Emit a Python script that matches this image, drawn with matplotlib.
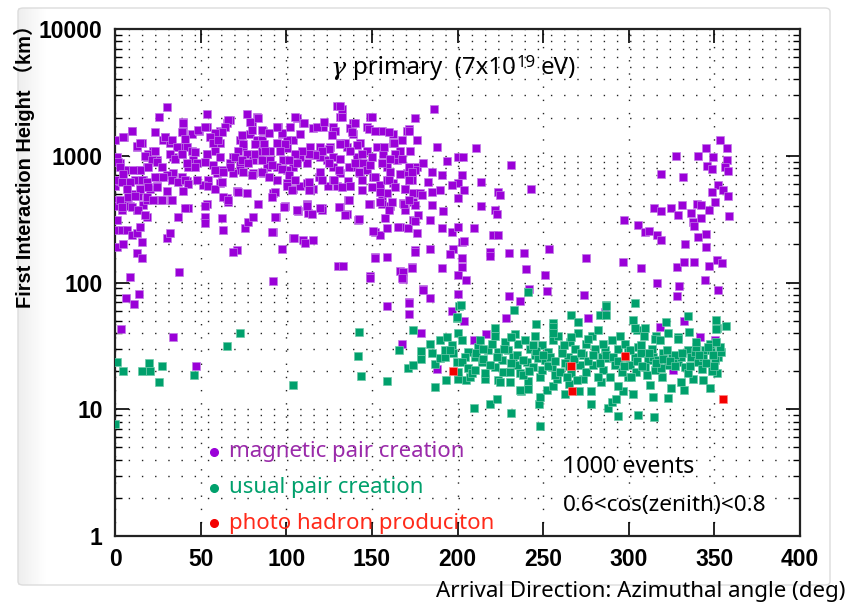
import matplotlib
matplotlib.use('Agg')
import matplotlib.pyplot as plt
from matplotlib.patches import FancyBboxPatch
from matplotlib.ticker import NullLocator, NullFormatter, FixedLocator, LogLocator
import numpy as np

# ---------------- data (azimuth deg, first interaction height km) ----------------
magnetic_pts = [
    (0,1330),(5.3,1410),(9.7,1580),(23.4,1530),(25.9,2030),(30.6,2410),(1,980),(2.9,870),(4.9,770),(0,575),
    (2.9,630),(6.8,575),(11.7,645),(14.6,770),(18.5,980),(12.6,1170),(15.6,1250),(22.4,1100),(28.2,1330),(32.1,1250),
    (29.2,1410),(38,1170),(34.1,980),(38.9,1040),(42.2,1170),(39.5,1580),(39.9,1850),(44.8,1480),(49,1580),(53.5,2150),
    (53.5,1700),(57.4,1410),(61.3,1580),(65.2,1800),(67.2,1920),(76.9,2150),(82.7,2030),(79.8,1850),(73,1330),(74.9,1170),
    (78.8,1480),(82.7,1330),(86.6,1170),(86.6,1580),(76.9,1040),(80.8,930),(69.1,980),(67.2,870),(63.2,770),(59.4,730),
    (54.5,645),(61.3,615),(51.6,590),(42.2,630),(38.9,680),(34.1,730),(30.2,705),(26.3,680),(24.3,575),(20.4,550),
    (16.5,645),(18.5,815),(24.3,930),(45.7,930),(42.8,815),(47.7,870),(53.5,1040),(61.3,1250),(73,870),(73,770),
    (69.1,730),(58.4,770),(1,450),(1.9,400),(3.9,375),(6.8,450),(8.8,400),(12.6,375),(16.5,410),(18.5,450),
    (13.6,480),(9.7,500),(1,310),(0,260),(3.9,260),(6.8,260),(9.7,235),(12.6,245),(14.6,275),(15.6,210),
    (1,190),(4.9,200),(12.6,170),(15.6,155),(18.5,330),(26.3,450),(32.9,450),(37,330),(42.8,390),(30.2,225),
    (32.1,245),(8.8,110),(37.6,120),(52.5,330),(52.5,295),(53.5,420),(62.2,325),(65.2,460),(66.2,435),(63.2,260),
    (71,525),(76.9,510),(75.9,270),(77.9,300),(80.8,330),(71,180),(69.1,175),(92.4,102),(97.3,185),(94.2,330),
    (92.2,510),(92.2,250),(99.3,400),(104.2,225),(106.1,375),(110,215),(112,420),(112.9,355),(115.8,215),(120.7,390),
    (130.4,135),(133.3,135),(148.9,112),(151.8,160),(158.6,160),(166.4,123),(168.3,107),(173.2,132),(175.1,180),(151.8,250),
    (154.7,235),(158.6,270),(166.4,275),(171.2,270),(174.2,310),(177.1,340),(155.7,450),(160.6,400),(158.6,510),(154.7,590),
    (162.5,615),(169.3,550),(174.2,510),(174.2,435),(169.3,375),
    (129.4,2450),(132.3,2350),(131.3,2030),(148.9,2030),(162.5,1480),(170.3,1580),(175.1,1990),(155.7,1580),(147,1700),(139.2,1800),
    (137.2,1660),(127.5,1700),(121.7,1700),(115.8,1660),(110,1800),(106.1,1990),(102.2,1700),(95.4,1700),(97.3,1480),(104.1,1330),
    (108,1480),(113.8,1170),(119.7,1170),(125.5,1170),(131.4,1250),(139.2,1480),(143,1250),(147,1100),(152.8,1170),(156.7,1040),
    (162.5,1250),(166.4,1100),(172.2,1100),(176.1,1330),(141.1,980),(145,870),(139.2,815),(143,730),(147,770),(150.9,680),
    (158.6,815),(158.6,645),(164.4,930),(170.3,730),(176.1,815),(136.3,630),(137.2,575),(131.4,730),(127.5,815),(123.6,930),
    (119.7,980),(115.8,1040),(111.9,870),(108,980),(104.1,815),(100.2,770),(98.3,930),(94.4,815),(90.5,930),(88.6,815),
    (86.6,730),(80.8,730),(94.4,645),(100.2,615),(104.1,550),(108,575),(111.9,615),(119.7,680),(124.5,575),(127.5,645),
    (115.8,550),(100.2,1150),(100.2,1330),(94.4,1250),(90.5,1100),(84.7,1040),(129.4,575),(127.5,980),(135.3,1170),(186.5,2350),
    (171.7,1620),(187.8,1180),(200.5,980),(193.7,910),(202.4,710),(200.5,605),(196.6,590),(189.8,540),(184.9,520),(183,625),
    (190.8,710),(184.9,750),(180,870),(175.2,775),(173.2,645),(178.1,505),(179.1,490),(200.5,460),(191.7,365),(183.9,310),
    (190.8,270),(196.6,250),(200.5,275),(202.4,210),(197.5,185),(195.6,167),(202.4,155),(190.8,129),(200.5,114),(183.9,185),
    (175.2,175),(173.2,131),(168.4,122),(167.4,108),(180,89),(183.9,76),(171.7,70),(200.5,81),(148.9,109),(151.8,155),
    (110.9,204),(104.7,223),(157.7,322),(165.4,275),(175.2,305),(176.1,245),(150.8,255),(142.1,310),(135.3,350),(131.4,395),
    (136.3,445),(120.7,375),(111.9,410),(107,365),(113.9,540),(148.9,415),(155.7,420),(161.6,435),(168.4,425),(175.2,410),
    (184.9,410),(91.5,250),
    (210.6,1150),(203,975),(231.2,850),(213.7,620),(203.8,540),(223.8,515),(224.8,490),(242.7,550),(213.7,405),(221.9,375),
    (222.9,345),(209.8,270),(203.8,212),(220.9,235),(223.8,235),(219,175),(219,163),(229.9,172),(239,172),(253.4,185),
    (239.8,127),(251.3,114),(274.9,155),(297,310),(296.8,145),(202.8,133),(204.8,105),(252.1,86),(241.9,89),(229.9,78),
    (236.5,71),(274,79),(305.2,283),
    (286.1,58),(276.4,52),(228.1,52),(203.8,50),(216.6,39),(209.8,35),(328.4,78),(332,50),(318.5,44.5),(341.4,37),
    (350.4,35),(352.3,87),(326,20.4),
    (6.4,75),(14.2,81),(11.1,68),(3.5,43),(34,37),(47.3,22),(158.6,65),(171.7,69),(171.7,56),(180,87),
    (178.7,40),(167.4,32.5),(196.6,60),(187.8,20.7),
    (353.3,1330),(357.6,1150),(345.1,1150),(340.6,1000),(349,975),(327.6,1000),(357.2,930),(356.2,820),(358.1,760),(345.5,835),
    (348.4,790),(318.7,720),(331.5,680),(352.3,590),(348.4,515),(355.2,540),(358.1,480),(350.4,435),(331.3,410),(314.7,390),
    (318.7,365),(324.5,385),(339.7,420),(342,410),(346.9,375),(328.9,340),(336.2,355),(342,325),(358.4,335),(337.3,300),
    (338.1,280),(309.5,250),(311.8,257),(316.3,235),(318.7,218),(333,203),(340.6,229),(345.1,240),(345.1,190),(307.2,129),
    (328.4,132),(332.3,145),(338.3,145),(346.7,135),(351.4,150),(354.5,142),(344.5,105),(316.3,100),(329.2,94),
    # denser reading, 0-90 deg
    (83.7,2000),(78.8,1850),(66.2,1900),(64.2,1690),(62.3,1550),(58.4,1500),(55.5,1400),(57.4,1250),(60.3,1320),(39.9,1800),
    (38.9,1550),(40.9,1360),(48.7,1600),(52.6,1690),(9.7,1580),(4.9,1400),(12.7,1200),(14.6,1270),(29.2,1400),(33.1,1320),
    (36,1170),(32.1,1040),(35,950),(38.9,1040),(44.8,1100),(46.7,1070),(41.8,870),(46.7,815),(52.6,900),(53.5,1040),
    (19.5,1040),(23.4,1100),(17.5,1000),(21.4,920),(24.3,895),(27.3,815),(19.5,815),(14.6,770),(10.7,770),(5.8,770),
    (1.9,895),(2.9,815),(4.9,720),(0,640),(3.9,625),(8.8,625),(15.6,640),(18.5,625),(23.4,680),(28.2,680),
    (33.1,640),(37,625),(40.9,640),(42.8,600),(47.7,640),(6.8,550),(14.6,550),(19.5,565),(24.3,565),(30.2,530),
    (39.9,530),(54.5,580),(58.4,550),(62.3,620),(2.9,445),(7.8,470),(11.7,485),(18.5,470),(22.4,445),(27.3,445),
    (33.1,445),(63.3,470),(66.2,445),(72,520),(3.9,395),(9.7,395),(13.6,370),(17.5,340),(40.9,385),(52.6,405),
    (83.7,420),(74,1450),(79.8,1600),(85.6,1600),(85.6,1320),(81.8,1240),(74.9,1240),(72,1100),(70.1,980),(74,920),
    (77.9,870),(81.8,1040),(85.6,1100),(85.6,920),(58.4,1100),(61.3,980),(57.4,840),(67.2,815),(58.4,770),(63.3,740),
    (85.6,740),(79.8,700),(74.9,740),
    # denser reading, 85-175 deg
    (131.5,2480),(132.5,2020),(150,2020),(105.3,2020),(110.1,1800),(117.9,1690),(121.8,1850),(140.3,1800),(138.4,1530),(148.1,1630),
    (152,1580),(159.8,1530),(171.4,1580),(167.6,1320),(162.7,1250),(156.9,1170),(163.7,1040),(160.8,950),(167.6,950),(171.4,815),
    (166.6,720),(160.8,740),(155.9,870),(150,980),(144.2,1040),(141.3,1220),(137.4,1100),(134.5,1270),(128.6,1580),(126.7,1450),
    (131.5,1240),(124.7,1130),(120.8,1100),(117,1010),(113.1,1040),(109.2,1100),(105.3,1040),(99.4,1240),(97.5,1500),(94.6,1690),
    (89.7,1500),(86.8,1240),(87.7,1100),(96.5,1100),(101.4,920),(106.2,870),(97.5,790),(91.6,840),(89.7,680),(101.4,700),
    (105.3,640),(100.4,580),(93.6,520),(91.6,470),(103.3,540),(113.1,620),(118.9,680),(119.9,740),(124.7,870),(131.5,950),
    (136.4,815),(140.3,870),(142.2,740),(144.2,640),(137.4,580),(132.5,565),(144.2,540),(150,565),(154.9,520),(159.8,640),
    (163.7,565),(169.5,550),(149.1,840),(152,680),(113.1,540),(120.8,640),(127.7,640),(130.6,770),(148.1,420),(154.9,430),
    (159.8,370),(168.5,420),(136.4,445),(130.6,395),(119.9,385),(112.1,405),(106.2,370),(98.5,395),(93.6,330),(115,350),
    (134.5,340),(142.2,315),(171.4,445),(171.4,640),(173.4,740),
]

usual_pts = [
    (1.4,23.7),(4.5,19.9),(0,7.7),(15.9,20.1),(19.9,23.3),(20.4,20.1),(27.3,22),(25.9,16.3),(46.3,18.7),(65.6,31.6),
    (73.2,40),(103.8,15.5),(142.7,40.8),(141.7,26.4),(143.5,18.3),(158.7,16.6),(165.6,29.3),(173.8,42),(170.9,21),(173.8,22.4),
    (178.7,24.9),(178.7,28.9),(183.9,32.5),(184.9,27.6),(186.9,15),(193.1,17),(199.5,52),(201.1,65),(186.9,22.7),(189.8,25.2),
    (192.7,25.9),(189.8,35),(193.7,37),(196.6,32),(197.5,27.6),(199.5,23.7),(200.5,17.5),(192.7,29.3),(195.6,29.3),
    (202,66),(241.3,84),(233.1,61),(245.8,47),(255.5,48),(255.5,44.5),(266.2,55),(270.1,49),(283.2,55),(286.7,66),
    (303.6,69),(302.2,51),(321.5,49),(334.8,54),(335.1,40.5),(350.9,51),(351.3,44),(356.8,45.5),(328.5,37),(323,40),
    (316.2,38),(304.6,42),(309.4,44),(286.5,65),(199.9,53),(287,55.6),(350.7,43),
    (204.9,17),(209.8,10.2),(218.9,11),(222.8,12),(231.2,9.3),(236.8,14),(240.9,14.5),(248.1,7.4),(247.7,11),(248.1,12.6),
    (252,14.3),(255.5,15.2),(262.7,13.3),(265.3,15.7),(270.9,14),(277.9,11),(277.9,14),(288,10.2),(290,11.4),(292.5,12),
    (293.9,8.8),(296.4,14),(302.6,13.3),(305.2,9),(314.5,8.7),(314.3,12.6),(322.7,12.3),(324.6,14.6),(332,14.2),(347.4,14.6),
    (343.5,17),(337.3,17.4),(330.5,16.3),(319.2,17.9),(312.3,15.6),(299.7,17.9),(293.5,15.2),(283.8,16.3),(273.4,17.4),(266.2,19.2),
    (257.9,17.2),(248.1,17.9),(241.3,16.8),(236.4,14.2),(230.6,16.4),(223.8,17),(216,17.2),(207.3,17.9),(200.4,17.2),(351.3,19.2),
    (348.4,20),
    (200.4,40),(202.4,35),(206.3,28.5),(204.3,26),(202.4,23.5),(206.3,21),(200.4,19.8),(208.2,19.2),
    (212.1,31),(210.2,26),(214.1,23.7),(210.2,20.4),(216,19.2),(218,29.2),(213.1,35),
    (221.8,43.5),(219.9,33),(223.8,28.5),(225.7,24.5),(221.8,21.7),(226.7,19.8),(224.8,16.5),(227.7,34),
    (229.6,29.2),(232.5,26),(234.5,22.4),(230.6,19.8),(235.5,33),(236.4,19.2),(233.5,39),
    (239.4,35),(242.3,30),(245.2,26.8),(240.3,23.7),(244.2,21.7),(247.1,25.3),(238.4,18.6),
    (249.1,32),(253,28.5),(251,24.5),(254.9,21.7),(255.9,35),(249.1,20.4),(256.9,18.6),(254,26),
    (258.8,37.5),(260.8,30),(264.7,26),(262.7,23),(259.8,19.8),(265.6,34),(263.7,18),
    (270.5,40),(268.5,30),(273.4,26.8),(271.5,22.4),(275.3,19.8),(269.5,17),(275.3,33),
    (278.3,37.5),(282.2,42),(280.2,30),(284.1,26),(279.2,22.4),(285.1,20.4),(282.2,18),(286.1,29.2),
    (290,35),(293.8,30),(288,25.3),(291.9,22.4),(295.8,19.8),(289,18),(294.8,37.5),
    (299.7,29.2),(303.6,26),(300.6,22.4),(304.5,19.8),(297.7,33),(301.6,18),(305.5,31),(303.6,43.5),
    (307.4,27.6),(311.3,24.5),(309.4,21.7),(314.3,26),(313.3,30),(315.3,20.4),(310.4,18.6),(315.3,36),
    (317.2,24.5),(320.1,27.6),(323,22.4),(319.1,21),(325,26),(322.1,29.2),(318.2,35),
    (328.9,23.7),(332.7,21.7),(330.8,26),(334.7,19.2),(326.9,26.8),(334.7,29.2),(328.9,36),
    (336.6,26),(340.5,23.7),(338.6,28.5),(343.4,26),(342.5,20.8),(339.5,31),(344.4,29.2),
    (348.3,29.2),(352.2,26),(354.1,28.5),(350.2,24.5),(347.3,33),(353.2,31),(351.2,34),
    (211,28),(215,25),(219,22.5),(223,26),(227,30),(231,23),(235,27),(238,24.5),(242,20),(246,29),
    (250,27),(253,22),(257,24),(261,28),(265,22),(268,25),(272,28),(276,24),(279,27),(283,23),
    (287,27),(291,26),(294,24),(298,26),(301,29.5),(305,24),(308,22),(312,28),(316,23),(320,25),
    (324,24),(327,22),(331,28),(336,22),(341,27),(345,23),(349,27),(346,31),(215,30),(244,32),
    (262,32),(285,33),(297,22),(307,32),(231,37),(266,37),(276,36),(245,38),(222,38),(256,40),
    (309,38),(339,34),(350,22),
]

photo_pts = [(197.5,20),(266.2,21.9),(267,13.9),(297.8,26.3),(355,12)]

series_names = ['magnetic pair creation', 'usual pair creation', 'photo hadron produciton']
y_ticks = [1, 10, 100, 1000, 10000]
y_ticklabels = ['1', '10', '100', '1000', '10000']
x_ticks = [0, 50, 100, 150, 200, 250, 300, 350, 400]

mag_x = [p[0] for p in magnetic_pts]; mag_y = [p[1] for p in magnetic_pts]
usu_x = [p[0] for p in usual_pts]; usu_y = [p[1] for p in usual_pts]
pho_x = [p[0] for p in photo_pts]; pho_y = [p[1] for p in photo_pts]

PURPLE = '#9a00d8'
GREEN = '#00a06c'
RED = '#f40000'

W, H = 848, 602
fig = plt.figure(figsize=(W/100, H/100), dpi=100)
def fx(x): return x / W
def fy(y): return 1 - y / H

# light frame and left shading
shade = fig.add_axes([fx(18), fy(585), 28/W, 577/H], zorder=-5)
grad = np.linspace(0, 1, 64)[None, :]
shade.imshow(grad, aspect='auto', cmap='Greys_r', vmin=-6, vmax=1, extent=[0, 1, 0, 1])
shade.set_axis_off()
fig.patches.append(FancyBboxPatch((fx(18), fy(585)), 812/W, 577/H,
                                  boxstyle='round,pad=0,rounding_size=0.006',
                                  transform=fig.transFigure, fill=False,
                                  edgecolor='#dcdcdc', lw=1.0, zorder=-4))

ax = fig.add_axes([fx(115), fy(536), 685/W, 507/H])
ax.set_yscale('log')
ax.set_xlim(0, 400)
ax.set_ylim(1, 10000)

dot = (0, (1, 8.5))
ax.xaxis.set_major_locator(FixedLocator(x_ticks))
ax.xaxis.set_minor_locator(NullLocator())
ax.yaxis.set_major_locator(FixedLocator(y_ticks))
ax.yaxis.set_minor_locator(LogLocator(base=10, subs=np.arange(2, 10)))
ax.yaxis.set_minor_formatter(NullFormatter())
ax.set_yticklabels(y_ticklabels)
ax.grid(True, axis='x', which='major', color='#222222', lw=1.0, linestyle=dot)
ax.grid(True, axis='y', which='both', color='#222222', lw=1.0, linestyle=dot)
ax.set_axisbelow(True)

ax.tick_params(which='major', direction='in', length=10, width=1.2, top=True, right=True,
               labelsize=16.5, pad=9)
ax.tick_params(which='minor', direction='in', length=5, width=1.0, right=True)
for lab in ax.get_xticklabels() + ax.get_yticklabels():
    lab.set_fontfamily('Liberation Sans')
    lab.set_fontweight('bold')
for s in ax.spines.values():
    s.set_linewidth(1.6)
    s.set_color('#222222')

ms = 6.0
ax.plot(mag_x, mag_y, 's', ms=ms, color=PURPLE, mec='#c27be6', mew=0.5, zorder=3)
ax.plot(usu_x, usu_y, 's', ms=ms, color=GREEN, mec='#6cc8a8', mew=0.5, zorder=4)
ax.plot(pho_x, pho_y, 's', ms=ms, color=RED, mec='#ff8080', mew=0.5, zorder=5)

fam = ['Noto Sans', 'Noto Sans CJK JP', 'DejaVu Sans']
fig.canvas.draw()
r = fig.canvas.get_renderer()

def fit_text(x, y, s, width, size=14, **kw):
    t = fig.text(fx(x), fy(y), s, fontsize=size, family=fam, **kw)
    w = t.get_window_extent(r).width
    t.set_fontsize(size * width / w)
    return t

# legend (manual), all three entries at the size fitted on the first
leg_colors = ['#9a2aaa', '#00a06c', '#ff2a1a']
dot_colors = [PURPLE, GREEN, RED]
leg_size = None
for i, (name, tc, dc) in enumerate(zip(series_names, leg_colors, dot_colors)):
    yy = [452, 488, 523][i]
    fig.lines.append(plt.Line2D([fx(214)], [fy(yy)], marker='o', ms=5.5, color=dc,
                                transform=fig.transFigure))
    if leg_size is None:
        t = fit_text(229, yy, name, 237, color=tc, ha='left', va='center')
        leg_size = t.get_fontsize()
    else:
        fig.text(fx(229), fy(yy), name, fontsize=leg_size, family=fam, color=tc,
                 ha='left', va='center')

# annotations
fit_text(563, 467, '1000 events', 132, ha='left', va='center')
fit_text(563, 505, '0.6<cos(zenith)<0.8', 204, ha='left', va='center')

# title pieces chained
tsize = 17.3
t1 = fig.text(fx(331), fy(68), 'γ', fontsize=tsize + 1, family=['DejaVu Serif'], style='italic',
              ha='left', va='center')
bb = t1.get_window_extent(r)
t2 = fig.text((bb.x1 + 7) / W, fy(68), 'primary  (7x10', fontsize=tsize, family=fam,
              ha='left', va='center')
bb = t2.get_window_extent(r)
t3 = fig.text((bb.x1 + 1) / W, fy(63), '19', fontsize=tsize * 0.7, family=fam, ha='left', va='center')
bb = t3.get_window_extent(r)
fig.text((bb.x1 + 4) / W, fy(68), 'eV)', fontsize=tsize, family=fam, ha='left', va='center')

# axis labels
yl = fig.text(fx(24), fy(161), 'First Interaction Height （km）', rotation=90, fontsize=13,
              fontweight='bold', family=['Liberation Sans', 'Noto Sans CJK JP', 'DejaVu Sans'],
              ha='center', va='center')
h = yl.get_window_extent(r).height
yl.set_fontsize(13 * 292 / h)
fit_text(845, 591, 'Arrival Direction: Azimuthal angle (deg)', 410, ha='right', va='center')

fig.savefig('out.png', dpi=100)
